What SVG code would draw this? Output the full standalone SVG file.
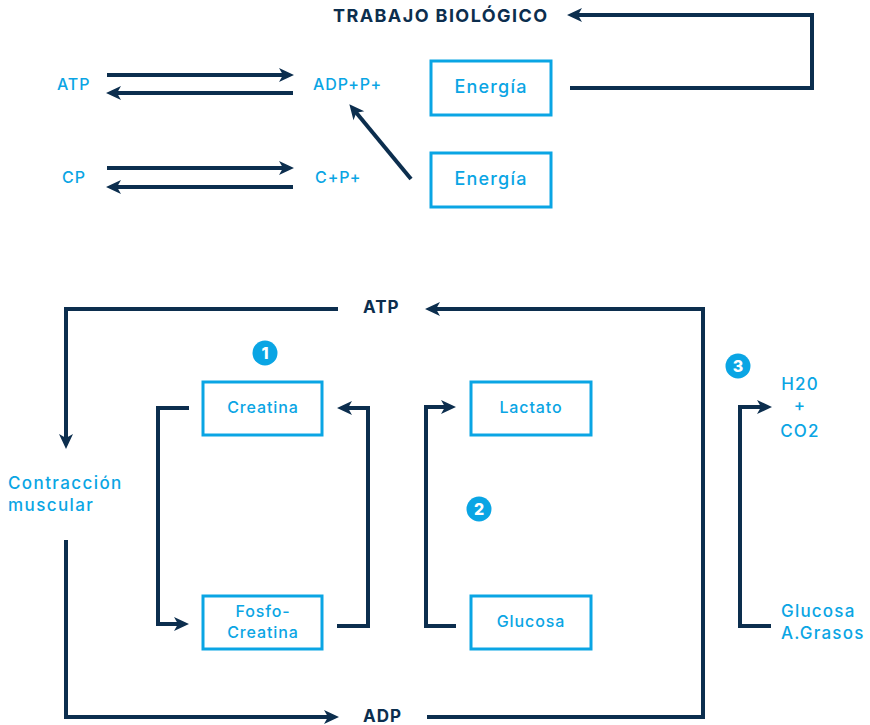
<svg xmlns="http://www.w3.org/2000/svg" width="870" height="725" viewBox="0 0 870 725">
  <style>
    .ln { fill: none; stroke: #0c2e4e; stroke-width: 4; stroke-linejoin: miter; stroke-linecap: butt; }
    .arr { marker-end: url(#head); }
    .box { fill: #ffffff; stroke: #0aa5e4; stroke-width: 3; }
    .lbl { font-family: Inter, "DejaVu Sans", sans-serif; font-weight: 500; fill: #0aa5e4; font-size: 16px; letter-spacing: 0.9px; }
    .big { font-size: 17px; letter-spacing: 1.2px; }
    .dark { font-family: Inter, "DejaVu Sans", sans-serif; fill: #0c2e4e; font-weight: 700; font-size: 17px; letter-spacing: 1px; }
    .mid { text-anchor: middle; }
    .badge circle { fill: #0aa5e4; }
    .badge text { font-family: Inter, "DejaVu Sans", sans-serif; fill: #ffffff; font-weight: 800; font-size: 16px; text-anchor: middle; }
  </style>
  <defs>
    <marker id="head" markerUnits="userSpaceOnUse" markerWidth="16" markerHeight="14" refX="5" refY="7" orient="auto" overflow="visible">
      <path d="M0,0 L15,7 L0,14 L4,7 Z" fill="#0c2e4e"/>
    </marker>
  </defs>

  <rect width="870" height="725" fill="#ffffff"/>

  <!-- connectors -->
  <g id="connectors">
    <!-- upper reactions -->
    <path class="ln arr" d="M107,75 H284"/>
    <path class="ln arr" d="M293,93 H116"/>
    <path class="ln arr" d="M107,168 H284"/>
    <path class="ln arr" d="M293,187 H116"/>
    <path class="ln arr" d="M411,179 L355.7,111.9"/>
    <path class="ln arr" d="M570,88 H812 V15 H577"/>
    <!-- ATP / ADP cycle -->
    <path class="ln arr" d="M338,309 H66 V439"/>
    <path class="ln arr" d="M427,717 H703 V309 H435"/>
    <path class="ln arr" d="M66,540 V717 H329"/>
    <!-- system 1 -->
    <path class="ln arr" d="M189,408 H158 V624 H179"/>
    <path class="ln arr" d="M337,626 H368 V408 H347"/>
    <!-- system 2 -->
    <path class="ln arr" d="M456,626 H426 V407 H446"/>
    <!-- system 3 -->
    <path class="ln arr" d="M771,626 H740 V407 H762"/>
  </g>

  <!-- upper part -->
  <g id="trabajo"><text class="dark" x="333" y="22" style="font-size:18px" textLength="215">TRABAJO BIOLÓGICO</text></g>
  <g id="atp-top"><text class="lbl" x="57" y="90">ATP</text></g>
  <g id="adp-top"><text class="lbl" x="313" y="90">ADP+P+</text></g>
  <g id="cp"><text class="lbl" x="62" y="183">CP</text></g>
  <g id="cpp"><text class="lbl" x="315" y="183">C+P+</text></g>
  <g id="energia1">
    <rect class="box" x="431" y="61" width="120" height="54"/>
    <text class="lbl mid" x="491" y="93" style="font-size:18px;letter-spacing:1.2px">Energía</text>
  </g>
  <g id="energia2">
    <rect class="box" x="431" y="153" width="120" height="54"/>
    <text class="lbl mid" x="491" y="185" style="font-size:18px;letter-spacing:1.2px">Energía</text>
  </g>

  <!-- lower part -->
  <g id="atp"><text class="dark" x="363" y="313">ATP</text></g>
  <g id="adp"><text class="dark" x="363" y="722">ADP</text></g>
  <g id="contraccion">
    <text class="lbl big" x="8" y="489" style="letter-spacing:1.4px">Contracción</text>
    <text class="lbl big" x="8" y="511" style="letter-spacing:1.4px">muscular</text>
  </g>
  <g id="badge1" class="badge"><circle cx="265" cy="353" r="12.5"/><text x="265" y="359">1</text></g>
  <g id="badge2" class="badge"><circle cx="479" cy="509" r="12.5"/><text x="479" y="515">2</text></g>
  <g id="badge3" class="badge"><circle cx="738" cy="366" r="12.5"/><text x="738" y="372">3</text></g>
  <g id="creatina">
    <rect class="box" x="203" y="382" width="119" height="53"/>
    <text class="lbl mid" x="263" y="413">Creatina</text>
  </g>
  <g id="fosfocreatina">
    <rect class="box" x="203" y="596" width="119" height="53"/>
    <text class="lbl mid" x="263" y="617">Fosfo-</text>
    <text class="lbl mid" x="263" y="638">Creatina</text>
  </g>
  <g id="lactato">
    <rect class="box" x="471" y="382" width="120" height="53"/>
    <text class="lbl mid" x="531" y="413">Lactato</text>
  </g>
  <g id="glucosa">
    <rect class="box" x="471" y="596" width="120" height="53"/>
    <text class="lbl mid" x="531" y="627">Glucosa</text>
  </g>
  <g id="h2o-co2">
    <text class="lbl big mid" x="800" y="390">H20</text>
    <text class="lbl big mid" x="800" y="411">+</text>
    <text class="lbl big mid" x="800" y="437">CO2</text>
  </g>
  <g id="glucosa-grasos">
    <text class="lbl big" x="781" y="617">Glucosa</text>
    <text class="lbl big" x="781" y="639">A.Grasos</text>
  </g>
</svg>
